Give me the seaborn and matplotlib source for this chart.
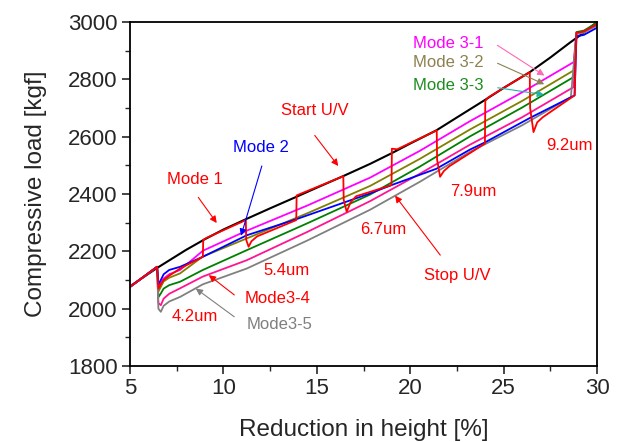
import matplotlib
matplotlib.use("Agg")
import matplotlib.pyplot as plt
from matplotlib.ticker import AutoMinorLocator, MultipleLocator
import seaborn as sns
import pandas as pd

# ---- data ----
x_black = [5, 6.45, 8, 9, 10, 11.2, 12.5, 13.9, 15, 16.4, 17.85, 19, 20, 21.4, 22.5, 24, 25,
           26.4, 27.5, 28.55, 29.3, 30]
y_black = [2078, 2142, 2205, 2242, 2276, 2312, 2350, 2390, 2422, 2462, 2505, 2542, 2576, 2622,
           2667, 2728, 2770, 2825, 2876, 2928, 2963, 3000]

x_m31 = [5, 6.45, 6.52, 6.65, 6.8, 7.1, 7.68, 8.9, 11.25, 14.5, 17.85, 20.5, 23.2, 26, 28.75, 28.9, 29.3, 30]
y_m31 = [2076, 2146, 2080, 2089, 2105, 2120, 2135, 2202, 2272, 2360, 2457, 2550, 2654, 2755, 2860, 2962, 2968, 2995]

x_m32 = [5, 6.45, 6.52, 6.65, 6.8, 7.1, 7.68, 8.9, 11.25, 14.5, 17.85, 20.5, 23.2, 26, 28.75, 28.9, 29.3, 30]
y_m32 = [2076, 2146, 2060, 2076, 2095, 2108, 2123, 2182, 2245, 2333, 2428, 2522, 2625, 2725, 2831, 2962, 2967, 2993]

x_m33 = [5, 6.45, 6.52, 6.65, 6.8, 7.1, 7.68, 8.9, 11.25, 14.5, 17.85, 20.5, 23.2, 26, 28.75, 28.9, 29.3, 30]
y_m33 = [2076, 2146, 2040, 2053, 2070, 2082, 2094, 2135, 2204, 2298, 2398, 2495, 2601, 2702, 2808, 2965, 2970, 2998]

x_m34 = [5, 6.45, 6.52, 6.65, 6.8, 7.1, 7.68, 8.9, 11.25, 14.5, 17.85, 20.5, 23.2, 26, 28.75, 28.9, 29.3, 30]
y_m34 = [2076, 2146, 2020, 2012, 2035, 2052, 2071, 2112, 2169, 2268, 2375, 2470, 2572, 2668, 2773, 2960, 2965, 2990]

x_m35 = [5, 6.45, 6.52, 6.65, 6.8, 7.1, 7.68, 8.9, 11.25, 14.5, 17.85, 20.5, 23.2, 26, 28.6, 28.9, 29.3, 30]
y_m35 = [2076, 2146, 2000, 1989, 2010, 2025, 2041, 2085, 2140, 2238, 2345, 2442, 2547, 2640, 2738, 2958, 2963, 2988]

x_mode2 = [5, 6.45, 6.52, 6.65, 6.8, 7.1, 7.68, 8.9, 11.25, 13.9, 17.85, 19.0, 21.4,
           23.2, 24.0, 26.4, 28.8, 28.9, 29.3, 30]
y_mode2 = [2076, 2146, 2085, 2100, 2120, 2135, 2146, 2181, 2256, 2312, 2402, 2431, 2488,
           2555, 2580, 2665, 2744, 2950, 2955, 2980]

x_mode1 = [5, 6.45, 6.52, 6.65, 6.8, 7.1, 7.68, 8.9, 8.92, 9.1, 11.2, 11.22, 11.35, 11.5, 11.8,
           13.9, 13.92, 14.1, 16.42, 16.44, 16.6, 16.8, 17.1, 19.0, 19.02, 19.3, 21.42, 21.44,
           21.6, 21.8, 22.1, 24.0, 24.02, 24.2, 26.4, 26.42, 26.6, 26.8, 27.1, 28.8, 28.9, 29.3, 30]
y_mode1 = [2076, 2146, 2070, 2085, 2100, 2115, 2140, 2181, 2240, 2247, 2309, 2240, 2216, 2235, 2252,
           2309, 2395, 2400, 2462, 2380, 2338, 2370, 2392, 2431, 2558, 2556, 2622, 2520,
           2460, 2480, 2497, 2576, 2725, 2738, 2825, 2700, 2616, 2650, 2668, 2744, 2962, 2967, 2992]

series = [
    ("Upper", x_black, y_black, "#000000", 1.5),
    ("Mode 3-1", x_m31, y_m31, "#ff00ff", 1.3),
    ("Mode 3-2", x_m32, y_m32, "#808000", 1.3),
    ("Mode 3-3", x_m33, y_m33, "#008000", 1.3),
    ("Mode3-4", x_m34, y_m34, "#ff1493", 1.3),
    ("Mode3-5", x_m35, y_m35, "#808080", 1.3),
    ("Mode 2", x_mode2, y_mode2, "#0000ff", 1.3),
    ("Mode 1", x_mode1, y_mode1, "#ff0000", 1.3),
]

sns.set_style("ticks")
plt.rcParams["font.family"] = ["Liberation Sans", "DejaVu Sans"]

fig = plt.figure(figsize=(6.24, 4.42), dpi=100)
ax = fig.add_axes([130 / 624, 1 - 366 / 442, (597 - 130) / 624, (366 - 22) / 442])

for name, xs, ys, col, lw in series:
    df = pd.DataFrame({"x": xs, "y": ys})
    sns.lineplot(data=df, x="x", y="y", ax=ax, color=col, lw=lw,
                 sort=False, estimator=None, legend=False)

ax.set_xlim(5, 30)
ax.set_ylim(1800, 3000)
ax.xaxis.set_major_locator(MultipleLocator(5))
ax.yaxis.set_major_locator(MultipleLocator(200))
ax.xaxis.set_minor_locator(AutoMinorLocator(2))
ax.yaxis.set_minor_locator(AutoMinorLocator(2))
ax.tick_params(which="major", direction="out", length=6, width=1.2, labelsize=16,
               top=False, right=False, pad=3)
ax.tick_params(which="minor", direction="out", length=3.5, width=1.0, top=False, right=False)
for s in ax.spines.values():
    s.set_visible(True)
    s.set_linewidth(1.3)
    s.set_color("black")
ax.set_xlabel("Reduction in height [%]", fontsize=17.5, labelpad=14)
ax.set_ylabel("Compressive load [kgf]", fontsize=17.5, labelpad=15)

fs = 12
red = "#ff0000"
# right-side labels
ax.text(20.15, 2925, "Mode 3-1", color="#ff00ff", fontsize=fs, va="center", ha="left")
ax.text(20.15, 2859, "Mode 3-2", color="#8c8150", fontsize=fs, va="center", ha="left")
ax.text(20.15, 2779, "Mode 3-3", color="#1e8c1e", fontsize=fs, va="center", ha="left")
ap = dict(arrowstyle="-|>", lw=0.8, mutation_scale=10)
ax.annotate("", xy=(27.31, 2808), xytext=(24.54, 2924), arrowprops=dict(ap, color="#ff69b4"))
ax.annotate("", xy=(27.31, 2779), xytext=(24.54, 2860), arrowprops=dict(ap, color="#8c8150"))
ax.annotate("", xy=(27.31, 2745), xytext=(24.54, 2772), arrowprops=dict(ap, color="#20b2aa"))

ax.text(14.9, 2692, "Start U/V", color=red, fontsize=fs, ha="center", va="center")
ax.annotate("", xy=(16.24, 2490), xytext=(14.8, 2612), arrowprops=dict(ap, color=red))

ax.text(12.0, 2563, "Mode 2", color="#0000ff", fontsize=fs, ha="center", va="center")
ax.annotate("", xy=(10.9, 2245), xytext=(12.1, 2507), arrowprops=dict(ap, color="#0000ff"))

ax.text(8.45, 2451, "Mode 1", color=red, fontsize=fs, ha="center", va="center")
ax.annotate("", xy=(9.73, 2291), xytext=(8.57, 2396), arrowprops=dict(ap, color=red))

ax.text(13.4, 2134, "5.4um", color=red, fontsize=fs, ha="center", va="center")
ax.text(12.9, 2037, "Mode3-4", color=red, fontsize=fs, ha="center", va="center")
ax.annotate("", xy=(9.1, 2123), xytext=(10.7, 2042), arrowprops=dict(ap, color=red))

ax.text(8.45, 1972, "4.2um", color=red, fontsize=fs, ha="center", va="center")
ax.text(12.98, 1946, "Mode3-5", color="#7f7f7f", fontsize=fs, ha="center", va="center")
ax.annotate("", xy=(8.4, 2076), xytext=(10.7, 1966), arrowprops=dict(ap, color="#808080"))

ax.text(18.54, 2277, "6.7um", color=red, fontsize=fs, ha="center", va="center")
ax.text(23.4, 2407, "7.9um", color=red, fontsize=fs, ha="center", va="center")
ax.text(28.55, 2570, "9.2um", color=red, fontsize=fs, ha="center", va="center")

ax.text(22.5, 2114, "Stop U/V", color=red, fontsize=fs, ha="center", va="center")
ax.annotate("", xy=(19.1, 2402), xytext=(21.7, 2179), arrowprops=dict(ap, color=red))

fig.savefig("out.png", dpi=100)
